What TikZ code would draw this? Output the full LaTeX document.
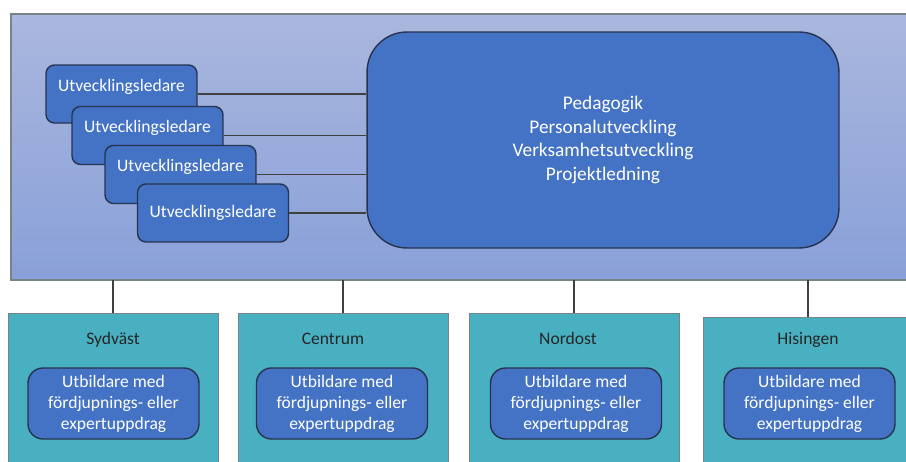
\documentclass[tikz,border=0pt]{standalone}
\usepackage{fontspec}
\setmainfont{Carlito}
\usepackage{tikz}
\usetikzlibrary{positioning,calc}
\definecolor{frametop}{RGB}{170,183,222}
\definecolor{framebot}{RGB}{137,160,216}
\definecolor{roleblue}{RGB}{68,114,196}
\definecolor{roleedge}{RGB}{38,52,80}
\definecolor{areateal}{RGB}{72,176,193}
\definecolor{areaedge}{RGB}{120,130,135}
\definecolor{wireg}{RGB}{64,64,64}

\begin{document}
\begin{tikzpicture}[x=0.02cm, y=-0.02cm,
    leader/.style={draw=roleedge, fill=roleblue, rounded corners=0.17cm, thick,
        minimum width=3.02cm, minimum height=1.16cm, inner sep=0pt,
        text=white, font=\fontsize{10}{12}\selectfont},
    core/.style={draw=roleedge, fill=roleblue, rounded corners=0.8cm, thick,
        minimum width=9.44cm, minimum height=4.32cm, align=center,
        text=white, font=\fontsize{11}{13.6}\selectfont},
    area/.style={draw=areaedge, fill=areateal, minimum width=4.2cm,
        minimum height=3.24cm, inner sep=0pt},
    areatitle/.style={text=black!85, font=\fontsize{10}{12}\selectfont,
        text height=7pt, text depth=2pt},
    expert/.style={draw=roleedge, fill=roleblue, rounded corners=0.3cm, thick,
        minimum width=3.42cm, minimum height=1.42cm, align=center,
        text=white, font=\fontsize{10}{12}\selectfont},
    wire/.style={draw=wireg, semithick}]

\useasboundingbox (0,0) rectangle (906,462);

% ==========================================
% TOP PANEL: development unit
% ==========================================
\shade[top color=frametop, bottom color=framebot, draw=areaedge, semithick]
    (11,14) rectangle (910,280);
\coordinate (frameS) at (11,280);

% Main task box
\node[core] (tasks) at (603,140)
    {Pedagogik\\Personalutveckling\\Verksamhetsutveckling\\Projektledning};

% Stacked leaders (text sits high where the next box covers them)
\node[leader, text depth=0.36cm] (ul1) at (121.5,94) {Utvecklingsledare};
\node[leader, text depth=0.36cm] (ul2) at (147.5,135.5) {Utvecklingsledare};
\node[leader, text depth=0.36cm] (ul3) at (180.5,174.5) {Utvecklingsledare};
\node[leader] (ul4) at (213,213) {Utvecklingsledare};

% Leader links
\foreach \u in {ul1,ul2,ul3,ul4}
    \draw[wire] (\u.east) -- (\u.east -| tasks.west);

% ==========================================
% BOTTOM ROW: city areas
% ==========================================
\node[area] (sydv) at (113,394) {};
\node[area] (cent) at (343,394) {};
\node[area] (nord) at (574,394) {};
\node[area] (hisi) at (808,398) {};

\node[areatitle] (sydvT) at (113,340) {Sydväst};
\node[areatitle] (centT) at (333,340) {Centrum};
\node[areatitle] (nordT) at (568,340) {Nordost};
\node[areatitle] (hisiT) at (808,340) {Hisingen};

\node[expert] (sydvE) at (113.5,403.5) {Utbildare med\\fördjupnings- eller\\expertuppdrag};
\node[expert] (centE) at (342,403.5) {Utbildare med\\fördjupnings- eller\\expertuppdrag};
\node[expert] (nordE) at (576,403.5) {Utbildare med\\fördjupnings- eller\\expertuppdrag};
\node[expert] (hisiE) at (809.5,403.5) {Utbildare med\\fördjupnings- eller\\expertuppdrag};

% Links up to the frame
\foreach \a in {sydv,cent,nord,hisi}
    \draw[wire] (\a.north) -- (\a.north |- frameS);

\end{tikzpicture}
\end{document}
